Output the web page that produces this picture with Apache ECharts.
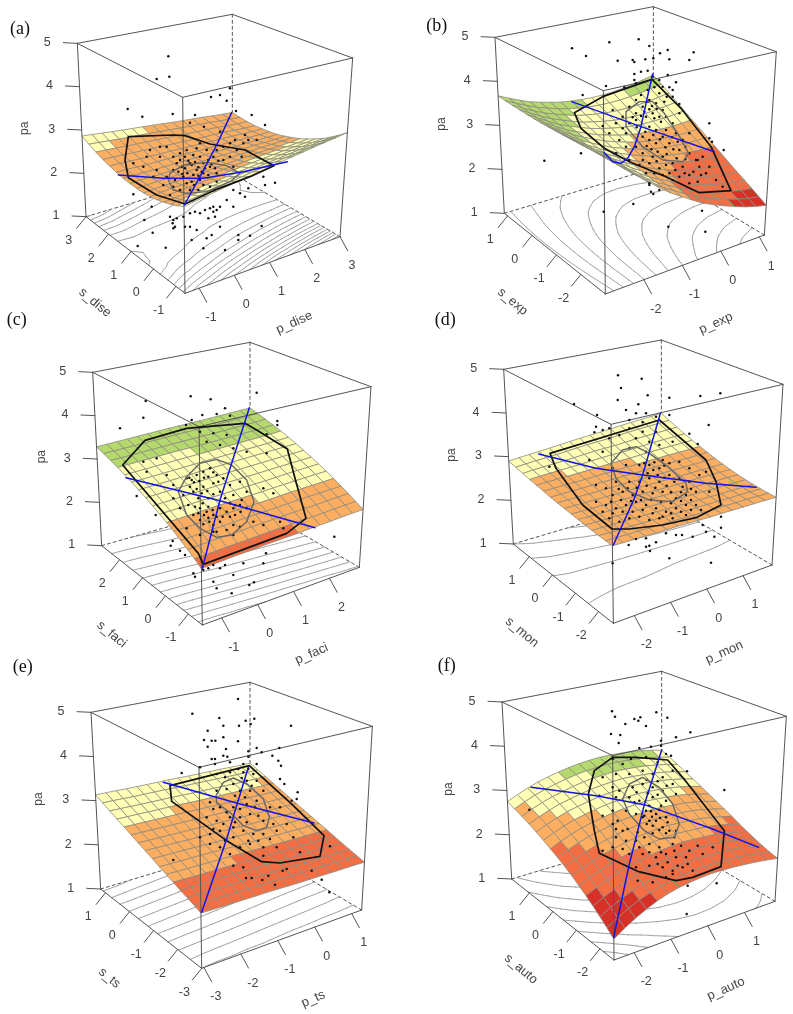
<!DOCTYPE html>
<html><head><meta charset="utf-8">
<style>html,body{margin:0;padding:0;background:#fff}#c{width:793px;height:1014px;filter:blur(0.35px)}</style>
<script src="https://cdn.jsdelivr.net/npm/echarts@6/dist/echarts.min.js"></script></head>
<body><div id="c"></div>
<script>
// Response surfaces: pa at 11 x 11 positions (rows s low->high, columns p low->high)
const surfaceA=[[2.77,2.83,2.88,2.94,2.99,3.05,3.11,3.16,3.22,3.27,3.33],[2.66,2.71,2.75,2.81,2.85,2.90,2.95,2.99,3.04,3.08,3.13],[2.58,2.62,2.65,2.70,2.73,2.77,2.81,2.85,2.89,2.92,2.96],[2.52,2.56,2.58,2.61,2.64,2.67,2.70,2.73,2.76,2.78,2.82],[2.49,2.52,2.53,2.56,2.57,2.60,2.62,2.64,2.66,2.67,2.70],[2.49,2.51,2.51,2.53,2.54,2.55,2.56,2.57,2.59,2.59,2.61],[2.51,2.52,2.51,2.52,2.52,2.53,2.53,2.53,2.54,2.53,2.54],[2.56,2.56,2.54,2.54,2.54,2.53,2.52,2.52,2.51,2.50,2.50],[2.63,2.62,2.60,2.59,2.57,2.56,2.54,2.53,2.52,2.49,2.48],[2.73,2.71,2.68,2.66,2.64,2.62,2.59,2.57,2.55,2.51,2.49],[2.86,2.83,2.79,2.76,2.73,2.70,2.66,2.63,2.60,2.56,2.53]];
const surfaceB=[[3.78,3.44,3.13,2.85,2.59,2.37,2.16,2.00,1.86,1.73,1.65],[3.74,3.42,3.12,2.86,2.62,2.42,2.23,2.08,1.96,1.85,1.79],[3.70,3.40,3.12,2.88,2.65,2.47,2.30,2.17,2.06,1.97,1.93],[3.67,3.39,3.13,2.90,2.70,2.53,2.38,2.26,2.18,2.10,2.07],[3.65,3.38,3.14,2.93,2.75,2.59,2.46,2.36,2.30,2.24,2.23],[3.64,3.39,3.16,2.97,2.80,2.67,2.55,2.47,2.42,2.39,2.39],[3.63,3.40,3.19,3.02,2.87,2.75,2.65,2.59,2.56,2.54,2.56],[3.63,3.42,3.22,3.07,2.94,2.84,2.76,2.71,2.70,2.70,2.74],[3.64,3.44,3.27,3.13,3.01,2.93,2.87,2.84,2.84,2.87,2.92],[3.65,3.47,3.32,3.20,3.10,3.03,2.99,2.98,3.00,3.04,3.11],[3.67,3.51,3.37,3.27,3.19,3.14,3.12,3.12,3.16,3.22,3.31]];
const surfaceC=[[2.14,2.15,2.17,2.18,2.20,2.21,2.22,2.24,2.25,2.27,2.28],[2.29,2.30,2.32,2.33,2.34,2.36,2.37,2.38,2.39,2.41,2.42],[2.42,2.43,2.45,2.46,2.48,2.49,2.50,2.52,2.53,2.54,2.55],[2.56,2.57,2.58,2.60,2.61,2.62,2.63,2.65,2.66,2.67,2.68],[2.68,2.69,2.71,2.72,2.73,2.74,2.75,2.76,2.78,2.79,2.80],[2.80,2.81,2.82,2.83,2.85,2.86,2.87,2.88,2.89,2.90,2.91],[2.91,2.92,2.93,2.94,2.96,2.97,2.98,2.99,3.00,3.01,3.02],[3.01,3.02,3.03,3.04,3.05,3.06,3.07,3.08,3.09,3.10,3.12],[3.11,3.12,3.13,3.14,3.15,3.15,3.16,3.17,3.18,3.19,3.21],[3.20,3.20,3.21,3.22,3.23,3.24,3.25,3.25,3.26,3.27,3.29],[3.28,3.29,3.30,3.31,3.32,3.33,3.33,3.34,3.35,3.36,3.37]];
const surfaceD=[[2.56,2.55,2.55,2.54,2.54,2.53,2.52,2.52,2.51,2.51,2.50],[2.57,2.56,2.56,2.55,2.55,2.54,2.53,2.53,2.52,2.52,2.51],[2.59,2.58,2.58,2.57,2.57,2.56,2.55,2.55,2.54,2.54,2.53],[2.61,2.60,2.60,2.59,2.60,2.59,2.58,2.58,2.57,2.57,2.56],[2.64,2.63,2.63,2.63,2.63,2.63,2.62,2.62,2.62,2.62,2.61],[2.67,2.67,2.67,2.67,2.67,2.67,2.67,2.67,2.67,2.67,2.67],[2.70,2.71,2.71,2.72,2.72,2.73,2.73,2.74,2.74,2.74,2.75],[2.75,2.76,2.76,2.77,2.78,2.79,2.80,2.81,2.82,2.82,2.83],[2.79,2.81,2.82,2.83,2.85,2.87,2.87,2.89,2.91,2.92,2.93],[2.84,2.87,2.88,2.90,2.93,2.95,2.96,2.99,3.01,3.02,3.04],[2.90,2.93,2.95,2.98,3.01,3.04,3.06,3.09,3.12,3.14,3.17]];
const surfaceE=[[2.10,2.09,2.09,2.08,2.08,2.07,2.06,2.06,2.05,2.05,2.04],[2.19,2.18,2.17,2.17,2.16,2.15,2.15,2.14,2.13,2.13,2.12],[2.27,2.26,2.26,2.25,2.25,2.24,2.23,2.23,2.22,2.21,2.20],[2.37,2.36,2.35,2.35,2.34,2.33,2.32,2.31,2.30,2.30,2.29],[2.46,2.45,2.45,2.44,2.43,2.42,2.41,2.40,2.39,2.38,2.38],[2.57,2.56,2.55,2.54,2.53,2.52,2.51,2.50,2.49,2.48,2.47],[2.67,2.66,2.65,2.64,2.63,2.62,2.61,2.60,2.59,2.58,2.57],[2.78,2.77,2.76,2.75,2.74,2.73,2.72,2.70,2.69,2.68,2.67],[2.89,2.88,2.87,2.86,2.85,2.83,2.82,2.81,2.80,2.79,2.78],[3.01,3.00,2.98,2.97,2.96,2.94,2.93,2.92,2.90,2.89,2.89],[3.13,3.12,3.10,3.09,3.08,3.07,3.05,3.04,3.03,3.01,3.00]];
const surfaceF=[[1.41,1.62,1.78,1.92,2.00,2.05,2.07,2.06,2.03,1.99,1.93],[1.59,1.77,1.91,2.01,2.08,2.13,2.15,2.14,2.12,2.07,1.99],[1.76,1.92,2.05,2.14,2.21,2.26,2.28,2.27,2.24,2.18,2.09],[1.92,2.06,2.18,2.27,2.33,2.38,2.40,2.38,2.35,2.29,2.19],[2.07,2.21,2.32,2.41,2.47,2.52,2.53,2.51,2.48,2.41,2.32],[2.21,2.35,2.46,2.54,2.61,2.65,2.66,2.64,2.61,2.54,2.44],[2.33,2.48,2.59,2.67,2.73,2.77,2.79,2.77,2.73,2.66,2.56],[2.45,2.60,2.71,2.79,2.85,2.89,2.91,2.89,2.85,2.79,2.69],[2.56,2.71,2.82,2.90,2.97,3.01,3.03,3.01,2.97,2.91,2.81],[2.66,2.81,2.92,3.01,3.08,3.12,3.14,3.13,3.09,3.03,2.94],[2.75,2.90,3.02,3.11,3.18,3.23,3.25,3.24,3.21,3.15,3.06]];

const pointsA=[[505,169],[508,230],[470,237],[383,327],[427,350],[518,342],[633,291],[660,285],[690,265],[680,302],[708,333],[755,345],[795,375],[585,345],[570,368],[612,380],[660,395],[735,405],[770,420],[450,450],[480,470],[500,440],[520,470],[540,480],[560,450],[580,465],[600,470],[620,450],[640,470],[520,510],[545,500],[570,490],[590,510],[610,490],[630,500],[650,520],[670,480],[690,470],[710,450],[730,430],[745,420],[500,530],[525,540],[550,530],[575,545],[600,540],[625,525],[650,545],[520,560],[540,570],[570,570],[595,570],[430,500],[400,490],[460,530],[490,555],[700,500],[400,583],[455,620],[433,660],[458,698],[413,738],[497,743],[510,650],[520,660],[530,655],[518,670],[525,680],[520,685],[570,640],[585,635],[600,640],[615,630],[630,625],[640,620],[650,630],[640,635],[660,620],[645,650],[625,655],[590,690],[570,680],[575,720],[610,745],[635,705],[620,715],[660,680],[715,705],[750,707],[715,720],[675,750],[785,678],[700,570],[720,580],[745,565],[790,530],[825,548],[795,555],[735,590],[700,620],[680,600],[550,650],[555,680],[555,470],[565,482],[575,495],[585,486],[595,502],[605,515],[615,505],[625,480],[635,492],[645,505],[655,482],[535,515],[547,522],[555,505],[562,520],[580,525],[595,527],[610,520],[530,490],[540,460],[590,445],[600,430],[650,450],[670,440],[690,430],[705,420],[725,470],[560,550],[582,555],[610,555],[630,560],[480,440],[470,510],[440,470],[510,585]];
const pointsB=[[528,145],[570,168],[640,127],[728,118],[760,138],[815,150],[792,160],[893,157],[665,182],[710,180],[715,186],[748,178],[772,175],[820,178],[880,180],[755,212],[715,222],[735,215],[770,230],[790,240],[815,225],[840,247],[445,482],[555,460],[560,285],[630,258],[685,262],[715,240],[720,250],[800,260],[820,262],[830,270],[812,290],[830,290],[850,312],[940,370],[940,415],[948,425],[983,450],[623,635],[712,612],[765,575],[790,570],[772,582],[760,550],[817,680],[918,632],[928,695],[700,320],[720,340],[740,320],[760,300],[780,310],[800,330],[770,340],[790,350],[810,350],[750,350],[720,360],[700,370],[680,350],[650,330],[660,370],[620,378],[690,400],[670,420],[640,400],[760,380],[780,390],[810,390],[830,370],[850,340],[840,400],[860,420],[880,400],[740,410],[760,420],[780,430],[800,410],[820,430],[850,450],[880,460],[900,480],[920,470],[940,500],[720,440],[740,460],[770,470],[800,470],[830,490],[860,500],[880,525],[905,545],[930,520],[960,540],[980,560],[700,480],[730,495],[760,490],[790,505],[820,520],[850,530],[880,550],[905,480],[910,500],[660,460],[750,520],[760,555],[830,540],[755,305],[768,318],[782,326],[745,335],[760,328],[775,355],[795,365],[735,348],[710,352],[722,382],[748,395],[772,405],[792,418],[808,442],[832,448],[752,438],[766,448],[785,455],[812,462],[842,475],[868,478],[782,484],[810,495],[838,510],[866,520],[892,515],[915,525],[800,525],[775,520],[740,480],[690,440],[680,385],[828,412],[845,425],[868,440],[720,300],[735,285],[755,270],[775,262],[790,280],[805,305]];
const pointsC=[[572,184],[632,193],[437,198],[770,173],[430,248],[360,280],[675,220],[607,240],[650,237],[690,242],[575,255],[558,270],[832,258],[832,270],[800,298],[1003,605],[410,483],[467,540],[518,618],[512,632],[540,647],[555,660],[580,715],[585,725],[640,740],[650,760],[695,775],[748,750],[762,742],[700,720],[660,700],[730,685],[790,685],[798,655],[640,690],[675,690],[610,705],[625,700],[600,290],[640,295],[680,300],[620,320],[660,330],[700,340],[740,350],[800,355],[470,370],[430,380],[440,410],[500,420],[520,450],[560,430],[575,435],[590,420],[610,410],[630,400],[650,420],[670,430],[640,445],[610,455],[580,470],[550,480],[520,490],[595,490],[625,490],[660,470],[690,450],[720,440],[700,480],[740,470],[790,460],[820,475],[600,520],[620,530],[640,540],[660,520],[680,530],[700,520],[720,510],[740,520],[580,540],[600,555],[640,570],[660,560],[700,570],[720,575],[760,560],[790,570],[840,560],[560,580],[600,600],[640,590],[850,580],[568,428],[582,442],[598,438],[612,428],[625,425],[640,412],[655,440],[570,455],[590,462],[605,475],[622,468],[640,478],[675,490],[690,505],[705,510],[725,495],[608,505],[625,515],[638,525],[612,540],[625,548],[610,568],[628,560],[650,545],[668,545],[690,545],[705,540],[722,530],[595,535],[585,515],[650,590],[680,585],[700,600],[565,510],[540,520]];
const pointsD=[[666,121],[737,131],[675,159],[755,181],[665,195],[820,188],[913,183],[973,175],[727,208],[534,207],[603,240],[690,225],[720,235],[750,235],[820,240],[938,270],[640,280],[600,275],[595,292],[620,285],[880,296],[905,327],[700,255],[740,262],[780,245],[820,670],[945,683],[650,685],[760,632],[750,635],[762,648],[780,622],[810,595],[840,600],[858,600],[890,605],[930,590],[955,605],[975,578],[920,570],[975,545],[698,630],[720,612],[750,610],[700,280],[740,290],[780,290],[720,310],[760,320],[790,330],[830,320],[670,300],[640,310],[700,340],[750,350],[800,375],[620,350],[580,375],[460,395],[650,400],[690,390],[730,390],[760,390],[790,400],[820,385],[850,380],[880,400],[910,420],[930,410],[660,440],[700,440],[730,440],[760,430],[790,440],[820,420],[850,430],[880,440],[900,470],[940,470],[600,450],[630,460],[650,480],[680,470],[710,480],[740,470],[770,475],[800,470],[840,490],[870,480],[600,500],[630,510],[660,520],[690,510],[720,500],[750,510],[780,520],[810,530],[840,520],[870,510],[900,510],[640,550],[670,560],[700,550],[730,545],[760,555],[790,550],[830,550],[870,540],[745,385],[775,382],[805,392],[772,405],[755,415],[785,420],[805,428],[835,440],[860,455],[668,462],[695,460],[722,458],[752,452],[778,458],[812,452],[825,472],[855,472],[885,462],[645,500],[675,495],[705,498],[735,495],[765,495],[795,500],[825,505],[855,498],[885,495],[620,530],[650,535],[680,530],[710,530],[740,525],[770,535],[800,545],[825,535],[855,530],[885,525],[915,525]];
const pointsE=[[714,75],[577,119],[658,132],[670,155],[717,155],[737,140],[752,150],[763,134],[873,155],[623,170],[670,190],[612,198],[635,200],[646,200],[623,218],[714,202],[678,225],[770,222],[838,222],[635,255],[645,255],[670,245],[682,248],[745,232],[745,248],[785,235],[817,245],[835,260],[843,275],[690,265],[730,270],[770,270],[840,315],[853,330],[893,355],[890,375],[875,380],[545,297],[645,270],[600,280],[520,558],[730,580],[738,612],[755,612],[805,605],[787,618],[825,632],[848,590],[860,585],[935,590],[965,617],[988,655],[700,575],[650,300],[690,295],[730,295],[760,300],[700,330],[740,320],[770,320],[720,350],[750,350],[790,350],[650,350],[630,385],[660,400],[700,400],[740,390],[770,380],[810,400],[840,400],[620,430],[650,440],[690,430],[720,430],[750,420],[790,440],[820,450],[860,450],[600,490],[630,480],[660,470],[700,460],[730,470],[760,480],[790,480],[830,470],[880,490],[630,510],[660,520],[690,540],[720,520],[750,510],[790,520],[830,520],[900,535],[990,517],[790,545],[715,285],[745,285],[675,310],[725,312],[755,335],[680,345],[705,365],[735,370],[765,400],[720,405],[680,415],[640,405],[775,425],[740,445],[705,445],[670,450],[640,465],[745,500],[775,500],[810,495],[700,490],[675,500]];
const pointsF=[[648,112],[657,128],[715,135],[733,130],[727,140],[781,115],[814,131],[688,150],[750,156],[645,180],[673,183],[840,190],[883,175],[795,200],[668,207],[730,222],[765,218],[795,215],[810,240],[825,245],[985,348],[873,292],[872,720],[962,628],[400,407],[650,255],[680,270],[705,255],[750,250],[785,265],[830,290],[660,300],[700,300],[740,290],[770,300],[800,310],[830,330],[620,310],[650,340],[670,350],[710,340],[740,330],[770,340],[800,350],[610,365],[660,370],[700,370],[730,380],[770,370],[810,380],[840,360],[620,425],[650,410],[690,410],[720,420],[750,410],[780,420],[810,430],[650,450],[680,470],[740,430],[760,440],[780,440],[800,460],[820,470],[840,470],[660,490],[690,500],[720,500],[760,510],[790,520],[830,510],[880,530],[620,530],[650,520],[700,540],[740,540],[780,550],[810,540],[840,550],[870,550],[920,540],[950,520],[720,580],[760,575],[800,580],[830,590],[860,580],[890,590],[810,610],[875,635],[725,620],[770,625],[830,600],[752,318],[785,322],[812,335],[722,355],[755,358],[785,362],[715,385],[760,395],[795,395],[765,412],[790,408],[745,425],[768,428],[792,432],[815,445],[752,450],[770,455],[790,468],[810,478],[835,490],[770,478],[745,490],[725,475],[695,465],[665,440],[660,465],[855,515],[905,515],[835,530],[795,535],[760,535],[730,520],[680,525],[785,570],[815,565],[845,575],[875,570]];

// Outer hulls, inner loops and the two blue lines drawn on each surface
const hullA=[[385,410],[520,405],[555,407],[630,432],[735,450],[822,497],[750,530],[640,572],[555,612],[470,585],[385,533],[375,480],[385,410]];
const hullB=[[768,238],[620,290],[535,338],[555,385],[625,445],[700,485],[810,530],[910,578],[1005,572],[945,440],[855,325],[768,238]];
const hullC=[[435,316],[560,280],[735,265],[770,285],[862,342],[885,430],[918,550],[860,595],[610,688],[595,655],[368,390],[435,316]];
const hullD=[[790,255],[462,355],[480,400],[560,510],[648,582],[700,582],[800,570],[900,548],[975,510],[960,440],[930,375],[790,255]];
const hullE=[[748,275],[510,335],[515,382],[680,500],[785,563],[840,567],[960,547],[972,485],[880,395],[748,275]];
const hullF=[[650,250],[720,250],[815,258],[860,310],[985,470],[975,578],[890,610],[840,620],[725,592],[610,538],[595,470],[577,360],[595,290],[650,250]];
const loopA=[[510,520],[550,495],[620,487],[680,497],[720,520],[690,545],[620,575],[560,580],[520,570],[505,540],[510,520]];
const loopB=[[690,335],[730,305],[770,305],[805,340],[845,400],[878,460],[860,485],[800,480],[740,440],[690,380],[690,335]];
const loopC=[[535,470],[560,425],[600,385],[650,373],[695,390],[740,435],[762,500],[740,560],[695,600],[650,607],[600,580],[560,540],[535,470]];
const loopD=[[645,385],[680,345],[720,335],[760,355],[815,395],[870,445],[875,470],[830,500],[760,495],[700,470],[660,430],[645,385]];
const loopE=[[648,365],[670,325],[700,312],[740,330],[790,375],[808,430],[800,460],[770,470],[730,455],[695,420],[650,385],[648,365]];
const loopF=[[680,375],[700,330],[740,310],[790,340],[830,390],[850,450],[835,490],[790,495],[745,470],[700,420],[680,375]];
const locA=[[553,615],[600,530],[650,435],[695,338]];
const locB=[[770,222],[750,310],[735,380],[715,440],[695,475],[675,490],[650,485],[625,458]];
const locC=[[607,700],[660,495],[748,218]];
const locD=[[652,630],[715,490],[740,420],[793,235]];
const locE=[[605,715],[680,495],[712,388],[745,280]];
const locF=[[653,790],[700,570],[745,392],[797,228]];
const loicA=[[355,525],[490,535],[610,535],[730,515],[862,485]];
const loicB=[[527,305],[735,380],[955,455]];
const loicC=[[378,428],[660,497],[945,578]];
const loicD=[[428,357],[600,400],[740,420],[930,445],[1080,457]];
const loicE=[[490,325],[712,388],[942,447]];
const loicF=[[405,340],[600,365],[745,392],[950,465],[1088,520]];

// Tick labels
const zTicks=[1,2,3,4,5];
const pTicksA=[-1,0,1,2,3], sTicksA=[-1,0,1,2,3];
const pTicksB=[-2,-1,0,1], sTicksB=[-2,-1,0,1];
const pTicksC=[-1,0,1,2], sTicksC=[-1,0,1,2];
const pTicksD=[-2,-1,0,1], sTicksD=[-2,-1,0,1];
const pTicksE=[-3,-2,-1,0,1], sTicksE=[-3,-2,-1,0,1];
const pTicksF=[-2,-1,0,1], sTicksF=[-2,-1,0,1];
const letters=['(a)','(b)','(c)','(d)','(e)','(f)'];
const pNames=['p_dise','p_exp','p_faci','p_mon','p_ts','p_auto'];
const sNames=['s_dise','s_exp','s_faci','s_mon','s_ts','s_auto'];

// Layout of each panel: its grid, the projected box corners, scale ranges, contour step, colour breaks
const BAND_COLORS=['#d73027','#f46d43','#fdae61','#ffffb5','#b5d96d'];
const views=[
 {off:[0,0],tl:[232,130],tb:[697,43],tr:[1058,174],tf:[548,292],bl:[258,650],bb:[697,520],br:[1020,710],bf:[555,880],pr:[-1.4,3],sr:[-1.4,3],step:.05,bands:[1.7,2.35,2.7,3.1],letter:[60,88],pa:[75,385],sn:[285,908],pn:[883,968]},
 {off:[396,0],tl:[297,112],tb:[772,20],tr:[1141,155],tf:[622,272],bl:[325,640],bb:[772,505],br:[1105,705],bf:[628,882],pr:[-3,1.13],sr:[-3,1.13],step:.2,bands:[1.88,2.35,2.7,3.1],letter:[122,80],pa:[137,372],sn:[350,905],pn:[960,970]},
 {off:[0,335],tl:[278,112],tb:[750,22],tr:[1113,155],tf:[597,275],bl:[305,632],bb:[750,505],br:[1078,697],bf:[607,870],pr:[-1.54,2.83],sr:[-1.61,2.78],step:.1,bands:[1.7,2.27,2.62,3.12],letter:[50,-45],pa:[125,365],sn:[335,898],pn:[935,957]},
 {off:[396,335],tl:[323,103],tb:[796,15],tr:[1161,148],tf:[645,268],bl:[352,627],bb:[796,495],br:[1128,690],bf:[652,865],pr:[-2.58,1.8],sr:[-2.64,1.69],step:.1,bands:[1.7,2.3,2.8,3.2],letter:[148,-43],pa:[168,360],sn:[378,892],pn:[985,952]},
 {off:[0,674],tl:[273,115],tb:[750,25],tr:[1117,157],tf:[597,280],bl:[302,645],bb:[750,510],br:[1085,708],bf:[605,883],pr:[-3.06,1.27],sr:[-3,1.2],step:.1,bands:[1.7,2.34,2.82,3.2],letter:[68,-21],pa:[115,375],sn:[328,912],pn:[940,975]},
 {off:[396,674],tl:[318,84],tb:[797,-8],tr:[1171,127],tf:[650,245],bl:[347,615],bb:[797,480],br:[1137,682],bf:[654,858],pr:[-2.55,1.83],sr:[-2.6,1.75],step:.2,bands:[1.9,2.35,2.72,3.1],letter:[152,-24],pa:[158,345],sn:[375,885],pn:[990,945]}
];
const surfaces=[surfaceA,surfaceB,surfaceC,surfaceD,surfaceE,surfaceF];
const pointSets=[pointsA,pointsB,pointsC,pointsD,pointsE,pointsF];
const hulls=[hullA,hullB,hullC,hullD,hullE,hullF];
const loops=[loopA,loopB,loopC,loopD,loopE,loopF];
const locs=[locA,locB,locC,locD,locE,locF];
const loics=[loicA,loicB,loicC,loicD,loicE,loicF];
const pTicks=[pTicksA,pTicksB,pTicksC,pTicksD,pTicksE,pTicksF];
const sTicks=[sTicksA,sTicksB,sTicksC,sTicksD,sTicksE,sTicksF];

const SANS='"Liberation Sans",Arial,sans-serif', SERIF='"Liberation Serif","Times New Roman",serif';
const AXIS='#555', TXT='#444', MESH_CELLS=15;
const lerp=(a,b,t)=>a+(b-a)*t;
function project(V,u,v,w){
  const q=(F,R,L,B,k)=>lerp(lerp(F[k],R[k],u),lerp(L[k],B[k],u),v);
  const f=k=>lerp(q(V.bf,V.br,V.bl,V.bb,k),q(V.tf,V.tr,V.tl,V.tb,k),w);
  return [f(0),f(1)];
}
const Z=z=>(z-1)/4;
function zAt(T,u,v){
  const x=Math.min(u*10,9.9999),y=Math.min(v*10,9.9999),i=Math.floor(x),j=Math.floor(y),a=x-i,b=y-j;
  return lerp(lerp(T[j][i],T[j][i+1],a),lerp(T[j+1][i],T[j+1][i+1],a),b);
}
function bandColor(V,z){let k=0;while(k<4&&z>=V.bands[k])k++;return BAND_COLORS[k];}
// Contours are traced on a lightly smoothed copy of the table, which hides the rounding of the read values.
function smoothed(T){
  const n=T.length,g=(j,i)=>T[Math.max(0,Math.min(n-1,j))][Math.max(0,Math.min(n-1,i))];
  return T.map((r,j)=>r.map((_,i)=>{
    let s=0;for(let a=-1;a<=1;a++)for(let b=-1;b<=1;b++){s+=(a?1:2)*(b?1:2)*g(j+a,i+b);}
    // keep a planar edge: reflect instead of clamp
    return (j===0||j===n-1||i===0||i===n-1)?T[j][i]:s/16;
  }));
}
function customSeries(i,items,z){
  return {type:'custom',coordinateSystem:'cartesian2d',xAxisIndex:i,yAxisIndex:i,silent:true,animation:false,z,progressive:0,clip:false,
    data:items.map((_,k)=>[k]),
    renderItem(params,api){
      const it=items[params.dataIndex];
      if(it.text!==undefined){
        const c=api.coord(it.at);
        return {type:'text',x:c[0],y:c[1],rotation:it.rot||0,style:{text:it.text,font:it.font,fill:it.color,align:'center',verticalAlign:'middle'}};
      }
      const pts=it.pts.map(p=>api.coord(p));
      if(it.fill) return {type:'polygon',shape:{points:pts},style:{fill:it.fill,stroke:it.stroke,lineWidth:it.width}};
      return {type:'polyline',shape:{points:pts},style:{fill:'none',stroke:it.stroke,lineWidth:it.width,lineDash:it.dash||null,lineJoin:'round',lineCap:'round'}};
    }};
}
function contours(V,T0){
  const T=smoothed(T0),N=20,segs=[],val=(i,j)=>zAt(T,i/N,j/N);
  let lo=Infinity,hi=-Infinity;
  for(const r of T)for(const x of r){lo=Math.min(lo,x);hi=Math.max(hi,x);}
  for(let L=Math.ceil(lo/V.step)*V.step;L<=hi;L+=V.step){
    for(let j=0;j<N;j++)for(let i=0;i<N;i++){
      const c=[[i,j],[i+1,j],[i+1,j+1],[i,j+1]],h=[];
      for(let e=0;e<4;e++){
        const A=c[e],B=c[(e+1)%4],a=val(A[0],A[1]),b=val(B[0],B[1]);
        if((a<L)!==(b<L)){const t=(L-a)/(b-a);h.push([lerp(A[0],B[0],t)/N,lerp(A[1],B[1],t)/N]);}
      }
      if(h.length>=2)segs.push({pts:[project(V,h[0][0],h[0][1],0),project(V,h[1][0],h[1][1],0)],stroke:'#999',width:.9});
      if(h.length===4)segs.push({pts:[project(V,h[2][0],h[2][1],0),project(V,h[3][0],h[3][1],0)],stroke:'#999',width:.9});
    }
  }
  return segs;
}

const grids=[],xAxes=[],yAxes=[],series=[];
views.forEach((V,i)=>{
  grids.push({left:V.off[0],top:V.off[1],width:396,height:340,show:false});
  xAxes.push({type:'value',gridIndex:i,min:0,max:1188,show:false});
  yAxes.push({type:'value',gridIndex:i,min:0,max:1020,inverse:true,show:false});
  const T=surfaces[i];
  const line=(a,b,dash)=>({pts:[a,b],stroke:AXIS,width:1,dash});
  series.push(customSeries(i,[line(V.tb,V.bb,[3,3]),line(V.bl,V.bb,[3,3]),line(V.br,V.bb,[3,3])],1));
  series.push(customSeries(i,contours(V,T),2));
  const cells=[],M=MESH_CELLS;
  for(let s=M-1;s>=0;s--)for(let k=M-1;k>=0;k--){
    const c=[[k,s],[k+1,s],[k+1,s+1],[k,s+1]].map(q=>[q[0]/M,q[1]/M]);
    const zs=c.map(q=>zAt(T,q[0],q[1]));
    cells.push({pts:c.map((q,n)=>project(V,q[0],q[1],Z(zs[n]))),fill:bandColor(V,(zs[0]+zs[1]+zs[2]+zs[3])/4),stroke:'#8b8b80',width:.8});
  }
  series.push(customSeries(i,cells,3));
  const front=[line(V.tl,V.tb),line(V.tb,V.tr),line(V.tr,V.tf),line(V.tf,V.tl),line(V.tl,V.bl),line(V.tr,V.br),line(V.tf,V.bf),line(V.bl,V.bf),line(V.br,V.bf)];
  const texts=[];
  const add=(b,d)=>[b[0]+d[0],b[1]+d[1]];
  pTicks[i].forEach(t=>{const b=project(V,(t-V.pr[0])/(V.pr[1]-V.pr[0]),0,0);front.push(line(b,add(b,[23,42])));texts.push({text:String(t),at:add(b,[36,88]),font:'12.5px '+SANS,color:TXT});});
  sTicks[i].forEach(t=>{const b=project(V,0,(t-V.sr[0])/(V.sr[1]-V.sr[0]),0);front.push(line(b,add(b,[-28,35])));texts.push({text:String(t),at:add(b,[-52,72]),font:'12.5px '+SANS,color:TXT});});
  zTicks.forEach(t=>{const b=project(V,0,1,Z(t));front.push(line(b,add(b,[-42,-2])));texts.push({text:String(t),at:add(b,[-90,-2]),font:'12.5px '+SANS,color:TXT});});
  texts.push({text:'pa',at:V.pa,rot:Math.PI/2,font:'12px '+SANS,color:TXT});
  texts.push({text:sNames[i],at:V.sn,rot:-0.7,font:'13px '+SANS,color:TXT});
  texts.push({text:pNames[i],at:V.pn,rot:0.42,font:'13px '+SANS,color:TXT});
  texts.push({text:letters[i],at:V.letter,font:'18px '+SERIF,color:'#111'});
  series.push(customSeries(i,front,4));
  series.push({type:'scatter',xAxisIndex:i,yAxisIndex:i,data:pointSets[i],symbolSize:2.5,silent:true,animation:false,itemStyle:{color:'#111',opacity:1},z:5,clip:false});
  series.push(customSeries(i,[{pts:loops[i],stroke:'#666',width:1.4},{pts:hulls[i],stroke:'#111',width:1.7},{pts:locs[i],stroke:'#1414e0',width:1.5},{pts:loics[i],stroke:'#1414e0',width:1.5}],6));
  series.push(customSeries(i,texts,7));
});
const chart=echarts.init(document.getElementById('c'),null,{renderer:'canvas'});
chart.setOption({animation:false,backgroundColor:'#fff',tooltip:{show:false},grid:grids,xAxis:xAxes,yAxis:yAxes,series});
</script></body></html>
